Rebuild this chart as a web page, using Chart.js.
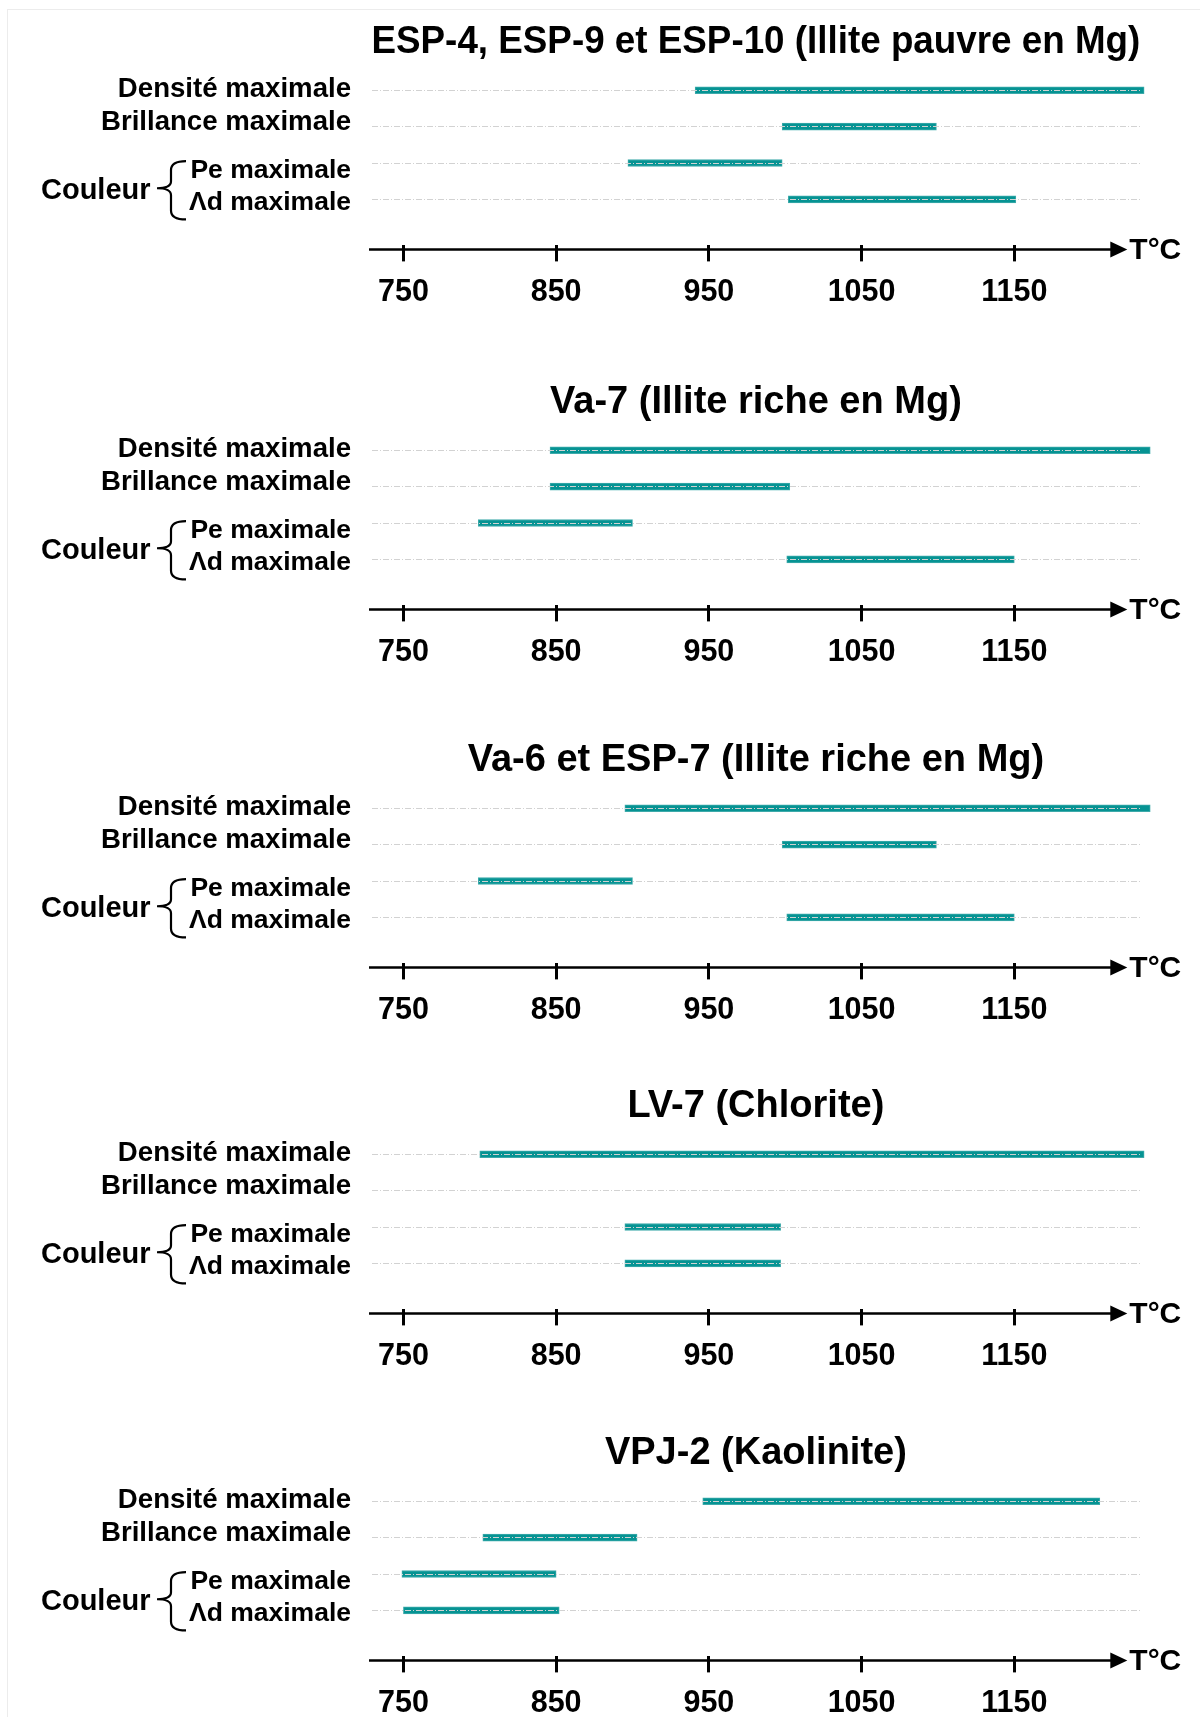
<!DOCTYPE html>
<html>
<head>
<meta charset="utf-8">
<script src="https://cdn.jsdelivr.net/npm/chart.js@4.4.1/dist/chart.umd.min.js"></script>
<style>
  html, body { margin: 0; padding: 0; background: #fff; width: 1200px; height: 1717px; overflow: hidden; }
  .frame { position: absolute; left: 7px; top: 9px; width: 1200px; height: 1720px; border-top: 1px solid #ececec; border-left: 1px solid #ececec; }
  .panel { position: absolute; left: 0; width: 1200px; height: 335px; }
</style>
</head>
<body>
<div class="frame"></div>
<div class="panel" style="top:0px"><canvas id="c0" width="1200" height="335"></canvas></div>
<div class="panel" style="top:360px"><canvas id="c1" width="1200" height="335"></canvas></div>
<div class="panel" style="top:718px"><canvas id="c2" width="1200" height="335"></canvas></div>
<div class="panel" style="top:1064px"><canvas id="c3" width="1200" height="335"></canvas></div>
<div class="panel" style="top:1411px"><canvas id="c4" width="1200" height="335"></canvas></div>
<script>
// ---------------- DATA ----------------
const categories = ['Densité maximale', 'Brillance maximale', 'Pe maximale', 'Λd maximale'];
const groupLabel = 'Couleur';
const axisLabel = 'T°C';
const xTicks = [750, 850, 950, 1050, 1150];

const panelTitles = [
  'ESP-4, ESP-9 et ESP-10 (Illite pauvre en Mg)',
  'Va-7 (Illite riche en Mg)',
  'Va-6 et ESP-7 (Illite riche en Mg)',
  'LV-7 (Chlorite)',
  'VPJ-2 (Kaolinite)'
];

// start / end temperature (°C) of each range, in category order
const esp_start = [941, 998, 897, 1002];
const esp_end   = [1235, 1099, 998, 1151];

const va7_start = [846, 846, 799, 1001];
const va7_end   = [1239, 1003, 900, 1150];

const va6_start = [895, 998, 799, 1001];
const va6_end   = [1239, 1099, 900, 1150];

const lv7_start = [800, null, 895, 895];
const lv7_end   = [1235, null, 997, 997];

const vpj_start = [946, 802, 749, 750];
const vpj_end   = [1206, 903, 850, 852];

const panelStarts = [esp_start, va7_start, va6_start, lv7_start, vpj_start];
const panelEnds   = [esp_end, va7_end, va6_end, lv7_end, vpj_end];

// ---------------- STYLE ----------------
const FONT = '"Liberation Sans", Arial, Helvetica, sans-serif';
const BAR_COLOR = '#069393';
const BAR_EDGE = '#3eaaaa';
const GRID_COLOR = '#d2d2d2';
const labelDy = [-1, -4, 8, 3];
const labelSize = [27.6, 27.6, 26.5, 26.5];

const decorPlugin = {
  id: 'decor',
  afterDraw(chart) {
    const ctx = chart.ctx;
    const ys = chart.scales.y;
    const xs = chart.scales.x;
    const ca = chart.chartArea;
    ctx.save();
    // category labels
    ctx.fillStyle = '#000';
    ctx.textAlign = 'right';
    ctx.textBaseline = 'middle';
    categories.forEach((lab, i) => {
      ctx.font = 'bold ' + labelSize[i] + 'px ' + FONT;
      ctx.fillText(lab, 351, ys.getPixelForValue(i) + labelDy[i]);
    });
    // "Couleur" group label + brace
    const yPe = ys.getPixelForValue(2);
    const yAd = ys.getPixelForValue(3);
    const ymid = (yPe + yAd) / 2;
    ctx.textAlign = 'left';
    ctx.font = 'bold 29px ' + FONT;
    ctx.fillText(groupLabel, 41, ymid + 9.5);
    const top = yPe - 2, bot = yAd + 20, tip = ymid + 7;
    const xr = 186, xm = 171, xt = 157;
    ctx.strokeStyle = '#000';
    ctx.lineWidth = 2.2;
    ctx.beginPath();
    ctx.moveTo(xr, top);
    ctx.quadraticCurveTo(xm, top, xm, top + 9);
    ctx.lineTo(xm, tip - 7);
    ctx.quadraticCurveTo(xm, tip, xt, tip);
    ctx.quadraticCurveTo(xm, tip, xm, tip + 7);
    ctx.lineTo(xm, bot - 9);
    ctx.quadraticCurveTo(xm, bot, xr, bot);
    ctx.stroke();
    // axis line with arrow
    const ay = xs.top + 4;
    const xStart = ca.left - 2.5;
    const xTip = ca.right - 13;
    ctx.lineWidth = 2.5;
    ctx.beginPath();
    ctx.moveTo(xStart, ay);
    ctx.lineTo(xTip - 14, ay);
    ctx.stroke();
    ctx.fillStyle = '#000';
    ctx.beginPath();
    ctx.moveTo(xTip - 17, ay - 8);
    ctx.lineTo(xTip, ay);
    ctx.lineTo(xTip - 17, ay + 8);
    ctx.closePath();
    ctx.fill();
    ctx.font = 'bold 30px ' + FONT;
    ctx.textAlign = 'left';
    ctx.textBaseline = 'middle';
    ctx.fillText(axisLabel, xTip + 2, ay + 1);
    ctx.restore();
  }
};

function makeChart(idx) {
  const starts = panelStarts[idx], ends = panelEnds[idx];
  const pts = [];
  categories.forEach((c, i) => {
    if (starts[i] !== null && ends[i] !== null) pts.push({ x: [starts[i], ends[i]], y: i });
  });
  return new Chart(document.getElementById('c' + idx), {
    type: 'bar',
    data: {
      datasets: [{
        data: pts,
        backgroundColor: BAR_COLOR,
        borderColor: BAR_EDGE,
        borderWidth: 1,
        borderSkipped: false,
        barThickness: 7,
        clip: false
      }]
    },
    options: {
      indexAxis: 'y',
      responsive: false,
      animation: false,
      events: [],
      layout: { padding: { left: 371.5, right: 59.7, top: 0, bottom: 11 } },
      plugins: {
        legend: { display: false },
        tooltip: { enabled: false },
        title: {
          display: true,
          text: panelTitles[idx],
          fullSize: false,
          color: '#000',
          font: { family: FONT, size: 38, weight: 'bold', lineHeight: 1.2 },
          padding: { top: 19.7, bottom: 6.7 }
        }
      },
      scales: {
        x: {
          type: 'linear',
          position: 'bottom',
          offset: false,
          min: 729.1,
          max: 1232.5,
          afterBuildTicks: (s) => { s.ticks = xTicks.map(v => ({ value: v })); },
          ticks: {
            color: '#000',
            padding: 13,
            font: { family: FONT, size: 30.5, weight: 'bold', lineHeight: 1.2 },
            callback: (v) => String(v),
            maxRotation: 0,
            autoSkip: false
          },
          grid: {
            display: true,
            offset: false,
            drawOnChartArea: false,
            drawTicks: true,
            tickLength: 16,
            tickWidth: 3,
            tickColor: '#000'
          },
          border: { display: false }
        },
        y: {
          type: 'linear',
          reverse: true,
          offset: false,
          min: -0.5,
          max: 4.262,
          afterBuildTicks: (s) => { s.ticks = categories.map((c, i) => ({ value: i })); },
          ticks: { display: false },
          grid: {
            display: true,
            offset: false,
            drawTicks: false,
            color: GRID_COLOR,
            lineWidth: 1,
            z: 1
          },
          border: { display: false, dash: [6, 2, 1, 2] }
        }
      }
    },
    plugins: [decorPlugin]
  });
}

for (let i = 0; i < panelTitles.length; i++) makeChart(i);
</script>
</body>
</html>
